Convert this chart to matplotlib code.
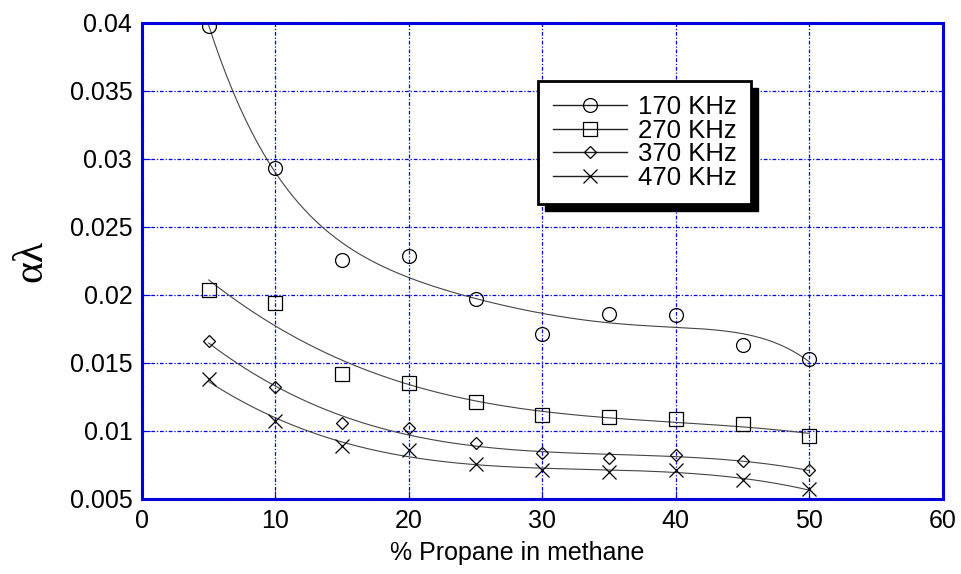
import numpy as np
import matplotlib.pyplot as plt
from matplotlib.patches import Rectangle

# percentage propane in methane
propan = [5, 10, 15, 20, 25, 30, 35, 40, 45, 50]
# alpha*lambda per frequency
f170 = [0.0398, 0.0293, 0.0226, 0.0229, 0.0197, 0.0171, 0.0186, 0.0185, 0.0163, 0.0153]
f270 = [0.0204, 0.0194, 0.0142, 0.0135, 0.0121, 0.0112, 0.0110, 0.0109, 0.0105, 0.0096]
f370 = [0.0166, 0.0132, 0.0106, 0.0102, 0.0091, 0.0084, 0.0080, 0.0082, 0.0078, 0.0071]
f470 = [0.0138, 0.0107, 0.0089, 0.0086, 0.0076, 0.0071, 0.0070, 0.0071, 0.0064, 0.0057]
etiketter = ["170 KHz", "270 KHz", "370 KHz", "470 KHz"]
markorer = ["o", "s", "D", "x"]
storlek = [10, 10, 6.5, 10]
grad = [5, 3, 3, 3]  # polynomgrad for the fitted curves

plt.rcParams["font.family"] = ["Liberation Sans", "DejaVu Sans"]

fig = plt.figure(figsize=(9.61, 5.74), dpi=100)
ax = fig.add_axes([0.1478, 0.1307, 0.8332, 0.8293])

blå = "#0000dd"
x_fin = np.linspace(5, 50, 200)
for serie, namn, m, s, g in zip([f170, f270, f370, f470], etiketter, markorer, storlek, grad):
    # anpassad kurva genom mätpunkterna (polynom)
    koef = np.polyfit(propan, serie, g)
    ax.plot(x_fin, np.polyval(koef, x_fin), color="#444444", lw=0.8, zorder=3)
    ax.plot(propan, serie, linestyle="none", marker=m, markersize=s,
            markerfacecolor="none", markeredgecolor="black", markeredgewidth=0.9, zorder=4)
    # legend-proxy
    ax.plot([], [], color="#222222", lw=1.0, marker=m, markersize=s,
            markerfacecolor="none", markeredgecolor="black", markeredgewidth=0.9, label=namn)

ax.set_xlim(0, 60)
ax.set_ylim(0.005, 0.04)
ax.set_xticks(range(0, 61, 10))
ax.set_yticks([0.005, 0.01, 0.015, 0.02, 0.025, 0.03, 0.035, 0.04])
ax.set_yticklabels(["0.005", "0.01", "0.015", "0.02", "0.025", "0.03", "0.035", "0.04"])
ax.tick_params(direction="in", length=6, color=blå, labelsize=18, pad=7)
ax.grid(True, color=blå, linestyle=(0, (3, 1.5, 1, 1.5)), linewidth=0.9)
for sida in ax.spines.values():
    sida.set_color(blå)
    sida.set_linewidth(2.2)
    sida.set_linestyle((0, (1.2, 0.5)))

ax.set_xlabel("% Propane in methane", fontsize=18)
ax.xaxis.set_label_coords(0.469, -0.088)
ax.set_ylabel("αλ", fontsize=30, family=["Liberation Serif", "DejaVu Serif"])
ax.yaxis.set_label_coords(-0.115, 0.5)

leg = ax.legend(loc="upper left", bbox_to_anchor=(0.495, 0.878), fontsize=18.5,
                handlelength=2.9, handletextpad=0.43, borderpad=0.55, labelspacing=-0.02,
                borderaxespad=0, fancybox=False, framealpha=1, edgecolor="black")
leg.get_frame().set_linewidth(2)
leg.set_zorder(6)

# skugga bakom legenden
fig.canvas.draw()
bb = leg.get_window_extent().transformed(ax.transAxes.inverted())
dx = 7 / (ax.bbox.width)
dy = 7 / (ax.bbox.height)
ax.add_patch(Rectangle((bb.x0 + dx, bb.y0 - dy), bb.width, bb.height, transform=ax.transAxes,
                       facecolor="black", edgecolor="black", zorder=5, clip_on=False))

fig.savefig("out.png", dpi=100)
